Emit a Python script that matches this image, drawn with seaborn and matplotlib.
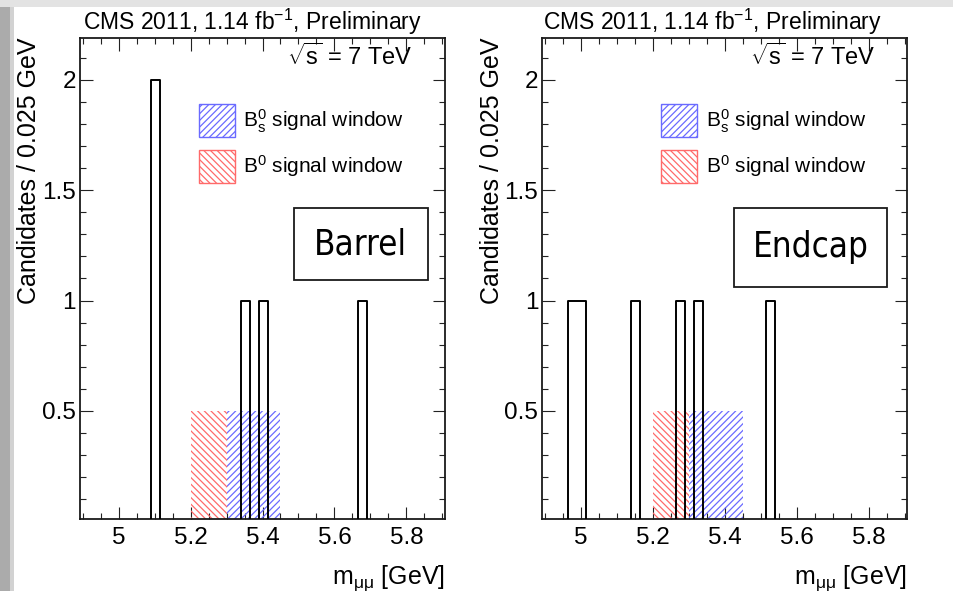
import numpy as np
import pandas as pd
import matplotlib
matplotlib.use("Agg")
import matplotlib.pyplot as plt
from matplotlib.patches import Patch, Rectangle
from matplotlib.ticker import MultipleLocator, FixedLocator, FixedFormatter
import seaborn as sns

# Dimuon candidates: occupied bin centres (GeV) and counts per 0.025 GeV bin
barrel_mass = [5.1025, 5.3525, 5.4025, 5.6775]
barrel_counts = [2, 1, 1, 1]
endcap_mass = [4.9775, 5.0025, 5.1525, 5.2775, 5.3275, 5.5275]
endcap_counts = [1, 1, 1, 1, 1, 1]

# Histogram binning
bin_start = 4.89
bin_width = 0.025
n_bins = 41

# Signal mass windows (GeV)
window_names = [r"B$^{0}_{\mathrm{s}}$ signal window", r"B$^{0}$ signal window"]
window_lo = [5.30, 5.20]
window_hi = [5.45, 5.30]
window_level = 0.5

region_names = ["Barrel", "Endcap"]
x_ticks = [5.0, 5.2, 5.4, 5.6, 5.8]
x_tick_labels = ["5", "5.2", "5.4", "5.6", "5.8"]
y_ticks = [0.5, 1.0, 1.5, 2.0]
y_tick_labels = ["0.5", "1", "1.5", "2"]

title = r"CMS 2011, 1.14 fb$^{-1}$, Preliminary"
energy = r"$\sqrt{\mathrm{s}}$ = 7 TeV"
x_title = r"m$_{\mathrm{μμ}}$ [GeV]"
y_title = "Candidates / 0.025 GeV"

sns.set_style("ticks")
plt.rcParams["font.family"] = ["Liberation Sans", "DejaVu Sans"]
plt.rcParams["mathtext.fontset"] = "custom"
plt.rcParams["mathtext.rm"] = "Liberation Sans"
plt.rcParams["mathtext.it"] = "Liberation Sans:italic"
plt.rcParams["mathtext.bf"] = "Liberation Sans:bold"
plt.rcParams["hatch.linewidth"] = 0.9
for key in ["text.color", "axes.labelcolor", "xtick.labelcolor", "ytick.labelcolor"]:
    plt.rcParams[key] = "black"

blue = "#6a6aff"
red = "#ff6a6a"
window_colors = [blue, red]
window_hatches = ["/////", "\\\\\\\\\\"]

edges = [float(e) for e in bin_start + bin_width * np.arange(n_bins + 1)]

fig = plt.figure(figsize=(9.54, 5.91), dpi=100)
fig.patch.set_facecolor("white")

# slide-style border strips
fig.patches.append(Rectangle((0, 0), 10 / 954, 1, transform=fig.transFigure,
                             facecolor="#ababab", edgecolor="none", zorder=-5))
fig.patches.append(Rectangle((10 / 954, 0), 4 / 954, 1, transform=fig.transFigure,
                             facecolor="#d2d2d2", edgecolor="none", zorder=-5))
fig.patches.append(Rectangle((0, 1 - 7 / 591), 1, 7 / 591, transform=fig.transFigure,
                             facecolor="#e3e3e3", edgecolor="none", zorder=-5))

ax_w = 365 / 954
ax_h = 481 / 591
ax_b = (591 - 518.7) / 591
axes = [fig.add_axes([80 / 954, ax_b, ax_w, ax_h]),
        fig.add_axes([542.3 / 954, ax_b, ax_w, ax_h])]

panels = [(barrel_mass, barrel_counts), (endcap_mass, endcap_counts)]
box_geom = [(0.586, 0.496, 0.367, 0.150), (0.526, 0.482, 0.419, 0.164)]
title_x = [0.008, 0.002]

for i, ax in enumerate(axes):
    ax.set_facecolor("white")
    # signal windows
    for lo, hi, col, hat in zip(window_lo, window_hi, window_colors, window_hatches):
        ax.bar(lo, window_level, width=hi - lo, align="edge", fill=False,
               edgecolor=col, hatch=hat, linewidth=0, zorder=1)

    masses, counts = panels[i]
    df = pd.DataFrame({"mass": masses, "count": counts})
    sns.histplot(data=df, x="mass", weights="count", bins=edges,
                 element="step", fill=False, color="black", linewidth=1.4,
                 ax=ax, zorder=3)

    ax.set_xlim(4.893, 5.907)
    ax.set_ylim(0.012, 2.19)

    ax.xaxis.set_major_locator(FixedLocator(x_ticks))
    ax.xaxis.set_major_formatter(FixedFormatter(x_tick_labels))
    ax.xaxis.set_minor_locator(MultipleLocator(0.05))
    ax.yaxis.set_major_locator(FixedLocator(y_ticks))
    ax.yaxis.set_major_formatter(FixedFormatter(y_tick_labels))
    ax.yaxis.set_minor_locator(MultipleLocator(0.1))
    ax.tick_params(which="both", direction="in", top=True, right=True,
                   color="#222222", width=0.8, labelsize=17.5)
    ax.tick_params(which="major", length=9)
    ax.tick_params(which="minor", length=4.5)
    ax.tick_params(axis="x", which="major", pad=6)
    ax.tick_params(axis="y", which="major", pad=3)

    for sp in ax.spines.values():
        sp.set_visible(True)
        sp.set_linewidth(1.3)
        sp.set_color("#1a1a1a")

    ax.set_xlabel(x_title, fontsize=18, loc="right")
    ax.xaxis.set_label_coords(1.0, -0.092)
    ax.set_ylabel(y_title, fontsize=18, loc="top")
    ax.yaxis.set_label_coords(-0.106, 1.0)

    ax.text(title_x[i], 1.016, title, transform=ax.transAxes, ha="left",
            va="baseline", fontsize=16.5)
    ax.text(0.912, 0.943, energy, transform=ax.transAxes, ha="right",
            va="baseline", fontsize=17)

    handles = [Patch(facecolor="none", edgecolor=c, hatch=h, linewidth=1.0,
                     label=n)
               for c, h, n in zip(window_colors, window_hatches, window_names)]
    ax.legend(handles=handles, loc="upper left", bbox_to_anchor=(0.326, 0.862),
              frameon=False, fontsize=15, handlelength=1.73, handleheight=2.06,
              labelspacing=0.62, handletextpad=0.4, borderpad=0,
              borderaxespad=0)

    bx, by, bw, bh = box_geom[i]
    ax.add_patch(Rectangle((bx, by), bw, bh, transform=ax.transAxes,
                           fill=False, edgecolor="#1a1a1a", linewidth=1.3,
                           zorder=5))
    ax.text(bx + bw / 2, by + bh / 2, region_names[i], transform=ax.transAxes,
            ha="center", va="center", fontsize=25,
            fontfamily="DejaVu Sans", fontstretch="condensed", zorder=6)

fig.savefig("out.png", dpi=100)
